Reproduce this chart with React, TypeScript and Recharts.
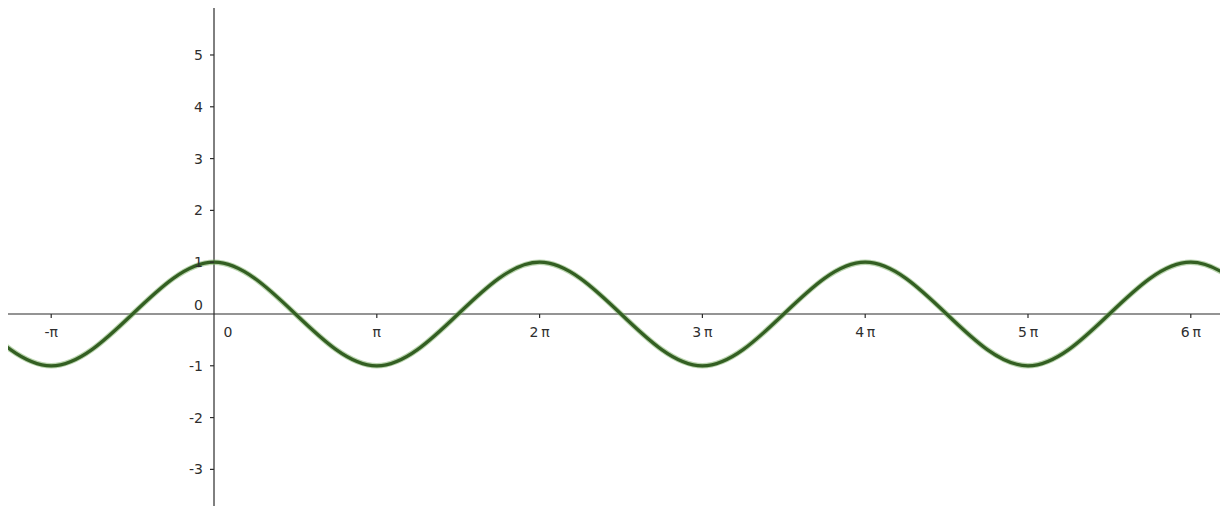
import { ComposedChart, Line, ReferenceLine, Scatter, XAxis, YAxis } from 'recharts';

// x is in units of π
const curveX = [-1.5, -1, -0.5, 0, 0.5, 1, 1.5, 2, 2.5, 3, 3.5, 4, 4.5, 5, 5.5, 6, 6.5];
const curveY = [0, -1, 0, 1, 0, -1, 0, 1, 0, -1, 0, 1, 0, -1, 0, 1, 0];

const xTickValues = [-1, 1, 2, 3, 4, 5, 6];
const xTickLabels = ['-π', 'π', '2\u2009π', '3\u2009π', '4\u2009π', '5\u2009π', '6\u2009π'];
const yTickValues = [-3, -2, -1, 1, 2, 3, 4, 5];
const yTickLabels = ['-3', '-2', '-1', '1', '2', '3', '4', '5'];

const X_MIN = -1.2654;
const X_MAX = 6.1794;
const Y_MIN = -3.707;
const Y_MAX = 5.907;

const curve = curveX.map((x, i) => ({ x, y: curveY[i] }));
const xTicks = xTickValues.map((x, i) => ({ x, y: 0, label: xTickLabels[i] }));
const yTicks = yTickValues.map((y, i) => ({ x: 0, y, label: yTickLabels[i] }));
const origin = [{ x: 0, y: 0 }];

const AXIS = '#2b2b2b';
const TEXT = '#2e2e2e';
const FONT = '"DejaVu Sans", sans-serif';
const FS = 14;

const XTick = (p: any) => (
  <g>
    <line x1={p.cx} y1={p.cy} x2={p.cx} y2={p.cy + 4} stroke={AXIS} strokeWidth={1.2} />
    <text x={p.cx} y={p.cy + 18} textAnchor="middle" dominantBaseline="central" fontSize={FS} fontFamily={FONT} fill={TEXT}>
      {p.payload.label}
    </text>
  </g>
);

const YTick = (p: any) => (
  <g>
    <line x1={p.cx - 4} y1={p.cy} x2={p.cx} y2={p.cy} stroke={AXIS} strokeWidth={1.2} />
    <text x={p.cx - 11} y={p.cy} textAnchor="end" dominantBaseline="central" fontSize={FS} fontFamily={FONT} fill={TEXT}>
      {p.payload.label}
    </text>
  </g>
);

const OriginLabels = (p: any) => (
  <g fontSize={FS} fontFamily={FONT} fill={TEXT}>
    <text x={p.cx + 14} y={p.cy + 18} textAnchor="middle" dominantBaseline="central">0</text>
    <text x={p.cx - 11} y={p.cy - 9} textAnchor="end" dominantBaseline="central">0</text>
  </g>
);

export default function App() {
  return (
    <div>
      <style>{'html,body{margin:0;padding:0;overflow:hidden}'}</style>
      <ComposedChart width={1220} height={506} margin={{ top: 8, right: 0, bottom: 0, left: 8 }}>
        <XAxis hide type="number" dataKey="x" domain={[X_MIN, X_MAX]} allowDataOverflow />
        <YAxis hide type="number" domain={[Y_MIN, Y_MAX]} allowDataOverflow />
        <ReferenceLine y={0} stroke={AXIS} strokeWidth={1.2} />
        <ReferenceLine x={0} stroke={AXIS} strokeWidth={1.2} />
        <Scatter data={xTicks} dataKey="y" shape={XTick} isAnimationActive={false} />
        <Scatter data={yTicks} dataKey="y" shape={YTick} isAnimationActive={false} />
        <Scatter data={origin} dataKey="y" shape={OriginLabels} isAnimationActive={false} />
        <Line
          data={curve}
          dataKey="y"
          type="natural"
          stroke="#7fb069"
          strokeOpacity={0.55}
          strokeWidth={5.5}
          dot={false}
          activeDot={false}
          isAnimationActive={false}
        />
        <Line
          data={curve}
          dataKey="y"
          type="natural"
          stroke="#335f22"
          strokeWidth={3.2}
          dot={false}
          activeDot={false}
          isAnimationActive={false}
        />
      </ComposedChart>
    </div>
  );
}
